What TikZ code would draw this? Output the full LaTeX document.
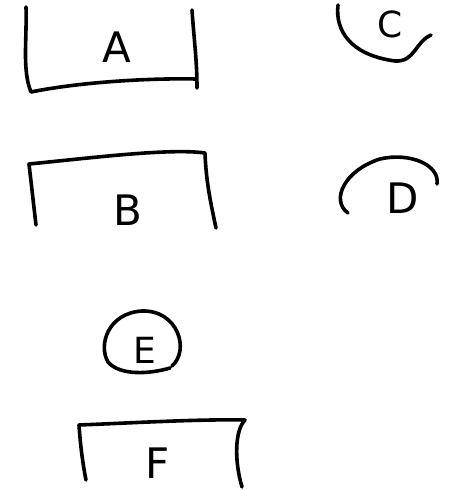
\documentclass[tikz,border=0pt]{standalone}
\usepackage{fontspec}
\setmainfont{DejaVu Sans}
\begin{document}
\begin{tikzpicture}[x=1pt,y=-1pt,
  ink/.style={line width=3.6pt,line cap=round,line join=round,black},
  lbl/.style={font=\fontsize{42}{42}\selectfont,inner sep=0pt},
  small lbl/.style={font=\fontsize{36}{36}\selectfont,inner sep=0pt}]
\useasboundingbox (0,0) rectangle (454,490);
% A
\draw[ink] (26,7) .. controls (27,40) and (22,70) .. (31,92) .. controls (80,82) and (150,78) .. (196,79);
\draw[ink] (192,10) .. controls (194,40) and (197,60) .. (197,88);
\node[lbl] (A) at (117,47) {A};
% C
\draw[ink] (338,5) .. controls (335,30) and (350,55) .. (395,61) .. controls (415,62) and (415,42) .. (431,35);
\node[small lbl] (C) at (390,24) {C};
% B
\draw[ink] (36,225) -- (29,164) .. controls (90,158) and (170,148) .. (205,153) .. controls (206,180) and (210,200) .. (216,228);
\node[lbl] (B) at (128,210) {B};
% D
\draw[ink] (348,213) .. controls (330,200) and (345,170) .. (380,159) .. controls (410,152) and (440,165) .. (437,184);
\node[lbl] (D) at (403,198) {D};
% E
\draw[ink] (170,368) .. controls (150,374) and (120,376) .. (108,362) .. controls (98,345) and (108,313) .. (142,311) .. controls (178,310) and (190,350) .. (172,366);
\node[small lbl] (E) at (145,350) {E};
% F
\draw[ink] (86,480) .. controls (82,460) and (80,440) .. (79,425) .. controls (130,423) and (200,419) .. (245,420) .. controls (235,430) and (234,460) .. (242,487);
\node[lbl] (F) at (158,463) {F};
\end{tikzpicture}
\end{document}
